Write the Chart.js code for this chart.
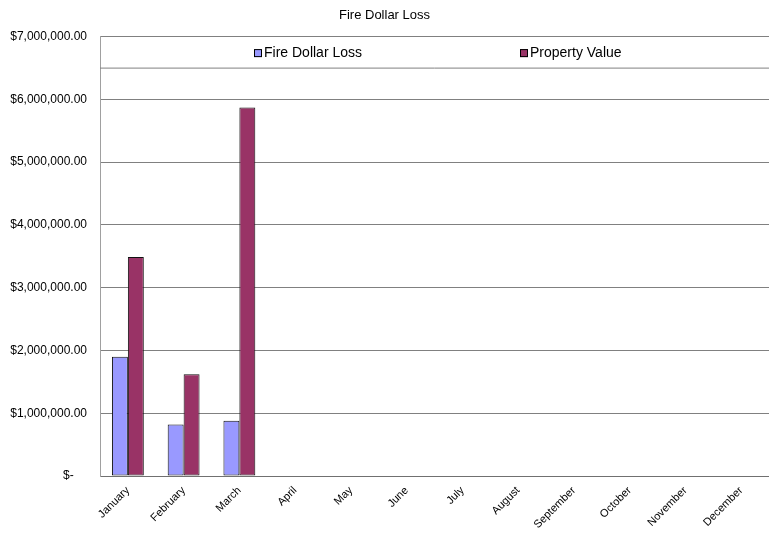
<!DOCTYPE html>
<html lang="en">
<head>
    <meta charset="UTF-8">
    <title>Fire Dollar Loss</title>
    <script src="https://cdn.jsdelivr.net/npm/chart.js"></script>
    <style>
        body { margin: 0; padding: 0; background: #ffffff; }
        #wrap { width: 769px; height: 536px; }
    </style>
</head>
<body>
    <div id="wrap"><canvas id="chart" width="769" height="536"></canvas></div>
    <script>
        // data
        const months = ['January', 'February', 'March', 'April', 'May', 'June', 'July',
                        'August', 'September', 'October', 'November', 'December'];
        const fireDollarLoss = [1900000, 820000, 880000, null, null, null, null, null, null, null, null, null];
        const propertyValue = [3490000, 1620000, 5870000, null, null, null, null, null, null, null, null, null];
        const seriesNames = ['Fire Dollar Loss', 'Property Value'];
        const seriesColors = ['#9999FF', '#993366'];

        function money(v) {
            if (v === 0) return '$-    ';
            return '$' + v.toLocaleString('en-US', { minimumFractionDigits: 2, maximumFractionDigits: 2 });
        }

        // legend drawn inside the top of the plot area, like the original
        const insideLegend = {
            id: 'insideLegend',
            afterDraw(chart) {
                const ctx = chart.ctx;
                const a = chart.chartArea;
                const boxBottom = a.top + 31;
                ctx.save();
                ctx.strokeStyle = '#808080';
                ctx.lineWidth = 1;
                ctx.beginPath();
                ctx.moveTo(a.left, boxBottom + 0.5);
                ctx.lineTo(a.right, boxBottom + 0.5);
                ctx.stroke();

                const xs = [254, 520];
                const midY = a.top + 16.5;
                ctx.font = '14px Arial, "Liberation Sans", sans-serif';
                ctx.textBaseline = 'middle';
                seriesNames.forEach((name, i) => {
                    ctx.fillStyle = seriesColors[i];
                    ctx.fillRect(xs[i], midY - 4, 8, 8);
                    ctx.strokeStyle = '#000';
                    ctx.strokeRect(xs[i] + 0.5, midY - 3.5, 7, 7);
                    ctx.fillStyle = '#000';
                    ctx.fillText(name, xs[i] + 10, midY);
                });
                ctx.restore();
            }
        };

        new Chart(document.getElementById('chart').getContext('2d'), {
            type: 'bar',
            data: {
                labels: months,
                datasets: [
                    {
                        label: seriesNames[0],
                        data: fireDollarLoss,
                        backgroundColor: seriesColors[0],
                        borderColor: '#111111',
                        borderWidth: 1,
                        borderSkipped: false
                    },
                    {
                        label: seriesNames[1],
                        data: propertyValue,
                        backgroundColor: seriesColors[1],
                        borderColor: '#111111',
                        borderWidth: 1,
                        borderSkipped: false
                    }
                ]
            },
            options: {
                responsive: false,
                animation: false,
                layout: { padding: 0 },
                datasets: {
                    bar: { categoryPercentage: 2 / 3.5, barPercentage: 1 }
                },
                plugins: {
                    legend: { display: false },
                    tooltip: { enabled: false },
                    title: {
                        display: true,
                        text: 'Fire Dollar Loss',
                        color: '#000',
                        font: { family: 'Arial, "Liberation Sans", sans-serif', size: 13, weight: 'normal' },
                        padding: { top: 8, bottom: 13 }
                    }
                },
                scales: {
                    x: {
                        grid: { display: false },
                        border: { display: true, color: '#707070' },
                        ticks: {
                            color: '#000',
                            maxRotation: 45,
                            minRotation: 45,
                            autoSkip: false,
                            padding: 0,
                            font: { family: 'Arial, "Liberation Sans", sans-serif', size: 11 }
                        },
                        afterFit(scale) { scale.height = 60; }
                    },
                    y: {
                        min: 0,
                        max: 7000000,
                        grid: { color: '#808080', drawTicks: false },
                        border: { display: true, color: '#a0a0a0' },
                        ticks: {
                            stepSize: 1000000,
                            color: '#000',
                            padding: 13,
                            font: { family: 'Arial, "Liberation Sans", sans-serif', size: 12 },
                            callback: v => money(v)
                        },
                        afterFit(scale) { scale.width = 100; }
                    }
                }
            },
            plugins: [insideLegend]
        });
    </script>
</body>
</html>
